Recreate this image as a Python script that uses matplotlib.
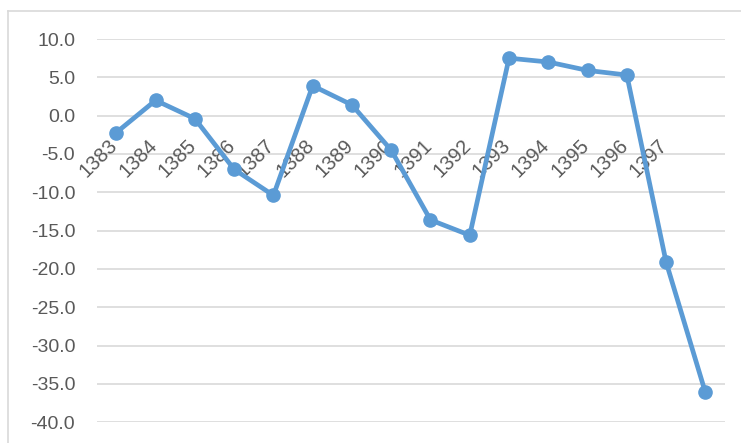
import matplotlib
matplotlib.use("Agg")
import matplotlib.pyplot as plt
from matplotlib.lines import Line2D

years = ["1383", "1384", "1385", "1386", "1387", "1388", "1389", "1390",
         "1391", "1392", "1393", "1394", "1395", "1396", "1397", ""]
values = [-2.2, 2.0, -0.4, -7.0, -10.4, 3.9, 1.4, -4.5,
          -13.6, -15.6, 7.5, 7.0, 5.9, 5.3, -19.1, -36.1]
yticks = [10, 5, 0, -5, -10, -15, -20, -25, -30, -35, -40]

plt.rcParams['font.family'] = ['Liberation Sans', 'DejaVu Sans']

W, H = 741, 443
fig = plt.figure(figsize=(W / 100, H / 100), dpi=100)
ax = fig.add_axes([96.7 / W, 1 - 422.3 / H, (725 - 96.7) / W, (422.3 - 39) / H])

xs = list(range(len(values)))
ax.plot(xs, values, color="#5B9BD5", lw=3.4, marker="o", ms=9.5,
        solid_joinstyle="round", zorder=3, clip_on=False)

ax.set_xlim(-0.5, len(values) - 0.5)
ax.set_ylim(-40, 10)
ax.set_yticks(yticks)
ax.set_yticklabels([f"{v:.1f}" for v in yticks])
ax.tick_params(axis="y", length=0, pad=15.5, labelsize=14, labelcolor="#595959")
ax.set_xticks([])
ax.grid(axis="y", color="#D9D9D9", lw=1.2)
ax.set_axisbelow(True)
for s in ax.spines.values():
    s.set_visible(False)

for x, lab in zip(xs, years):
    ax.annotate(lab, xy=(x, 0), xytext=(5, -20), textcoords="offset pixels",
                rotation=45, ha="right", va="top", fontsize=14.5,
                color="#595959", zorder=2)

# chart border
fig.add_artist(Line2D([7.7 / W, 1.0], [1 - 11 / H, 1 - 11 / H],
                      transform=fig.transFigure, color="#D9D9D9", lw=1.2))
fig.add_artist(Line2D([7.7 / W, 7.7 / W], [1 - 11 / H, 0],
                      transform=fig.transFigure, color="#D9D9D9", lw=1.2))

fig.savefig("out.png", dpi=100)
